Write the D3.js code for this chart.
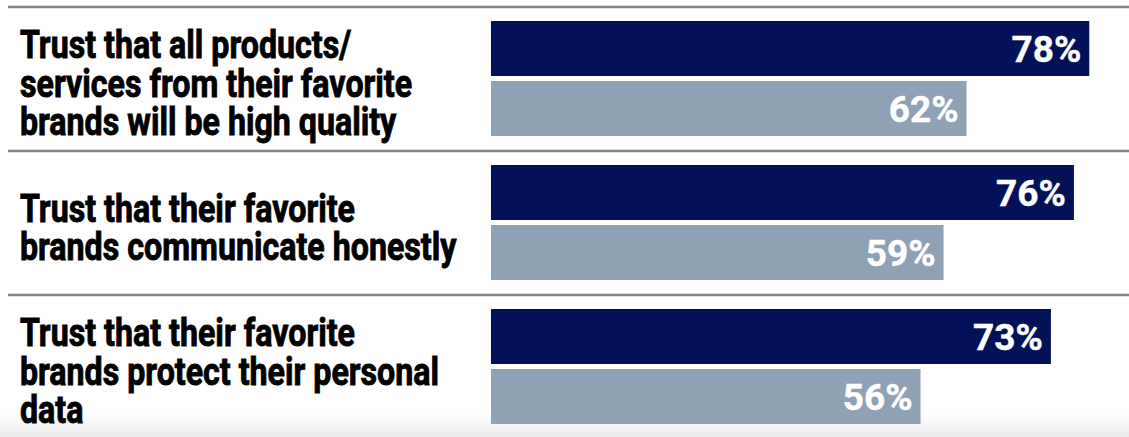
<!DOCTYPE html>
<html>
<head>
<meta charset="utf-8">
<script src="https://cdn.jsdelivr.net/npm/d3@7/dist/d3.min.js"></script>
<style>
  html, body { margin: 0; padding: 0; background: #ffffff; }
  svg { display: block; }
</style>
</head>
<body>
<svg id="chart" width="1129" height="437"></svg>
<script>
// Statements (one row per statement, wrapped as displayed)
const categories = [
  "Trust that all products/ services from their favorite brands will be high quality",
  "Trust that their favorite brands communicate honestly",
  "Trust that their favorite brands protect their personal data"
];
const categoryLines = [
  ["Trust that all products/", "services from their favorite", "brands will be high quality"],
  ["Trust that their favorite", "brands communicate honestly"],
  ["Trust that their favorite", "brands protect their personal", "data"]
];
const seriesNames = ["Group A", "Group B"];
const seriesA = [78, 76, 73];
const seriesB = [62, 59, 56];
const colors = ["#021158", "#8fa1b4"];

const W = 1129, H = 437;
const svg = d3.select("#chart");

// soft grey fade along the bottom edge
const defs = svg.append("defs");
const grad = defs.append("linearGradient")
  .attr("id", "bottomFade").attr("x1", 0).attr("y1", 0).attr("x2", 0).attr("y2", 1);
grad.append("stop").attr("offset", "0%").attr("stop-color", "#ffffff");
grad.append("stop").attr("offset", "100%").attr("stop-color", "#e9e9e9");
svg.append("rect").attr("x", 0).attr("y", 0).attr("width", W).attr("height", H).attr("fill", "#ffffff");
svg.append("rect").attr("x", 0).attr("y", 414).attr("width", W).attr("height", H - 414)
  .attr("fill", "url(#bottomFade)");

const rows = categories.map((c, i) => ({
  cat: c, lines: categoryLines[i],
  values: [seriesA[i], seriesB[i]]
}));

// scales
const x = d3.scaleLinear().domain([0, 100]).range([491, 1258]);
const yGroup = d3.scaleBand().domain(categories).range([7, 7 + 144 * 3]).padding(0);
const ySeries = d3.scaleBand().domain(seriesNames).range([14, 129])
  .paddingInner(1 / 12).paddingOuter(0);

// separators at the top of each row
svg.append("g").selectAll("line")
  .data(categories)
  .join("line")
  .attr("x1", 8).attr("x2", W)
  .attr("y1", d => yGroup(d)).attr("y2", d => yGroup(d))
  .attr("stroke", "#858585").attr("stroke-width", 2.5);

const group = svg.append("g").selectAll("g.row")
  .data(rows)
  .join("g").attr("class", "row")
  .attr("transform", d => `translate(0,${yGroup(d.cat)})`);

// bars
group.selectAll("rect.bar")
  .data(d => d.values.map((v, j) => ({ v, s: seriesNames[j], j })))
  .join("rect").attr("class", "bar")
  .attr("x", x(0))
  .attr("y", d => ySeries(d.s))
  .attr("width", d => x(d.v) - x(0))
  .attr("height", ySeries.bandwidth())
  .attr("fill", d => colors[d.j]);

// value labels inside bar ends
group.selectAll("text.val")
  .data(d => d.values.map((v, j) => ({ v, s: seriesNames[j] })))
  .join("text").attr("class", "val")
  .attr("x", d => x(d.v) - 8)
  .attr("y", d => ySeries(d.s) + ySeries.bandwidth() / 2 + 13)
  .attr("text-anchor", "end")
  .attr("font-family", "Roboto, 'Liberation Sans', sans-serif")
  .attr("font-weight", 700)
  .attr("font-size", 37)
  .attr("fill", "#ffffff")
  .attr("stroke", "#ffffff")
  .attr("stroke-width", 0.4)
  .text(d => d.v + "%");

// statement labels (condensed heavy type, left column), one text block per row
const fs = 39, lh = 38.4, capH = fs * 0.711, squeeze = 0.825;
const barsMid = ySeries.range()[0] + (ySeries.range()[1] - ySeries.range()[0]) / 2;
group.each(function (d) {
  const n = d.lines.length;
  const blockH = capH + (n - 1) * lh;
  const firstBase = barsMid + 4.5 - blockH / 2 + capH;
  const t = d3.select(this).append("g")
    .attr("transform", `translate(20,0) scale(${squeeze},1)`)
    .append("text")
    .attr("font-family", "Roboto, 'Liberation Sans', sans-serif")
    .attr("font-weight", 700)
    .attr("font-size", fs)
    .attr("fill", "#000000")
    .attr("stroke", "#000000")
    .attr("stroke-width", 0.9);
  t.selectAll("tspan")
    .data(d.lines)
    .join("tspan")
    .attr("x", 0)
    .attr("y", (s, i) => firstBase + i * lh)
    .text(s => s);
});
</script>
</body>
</html>
